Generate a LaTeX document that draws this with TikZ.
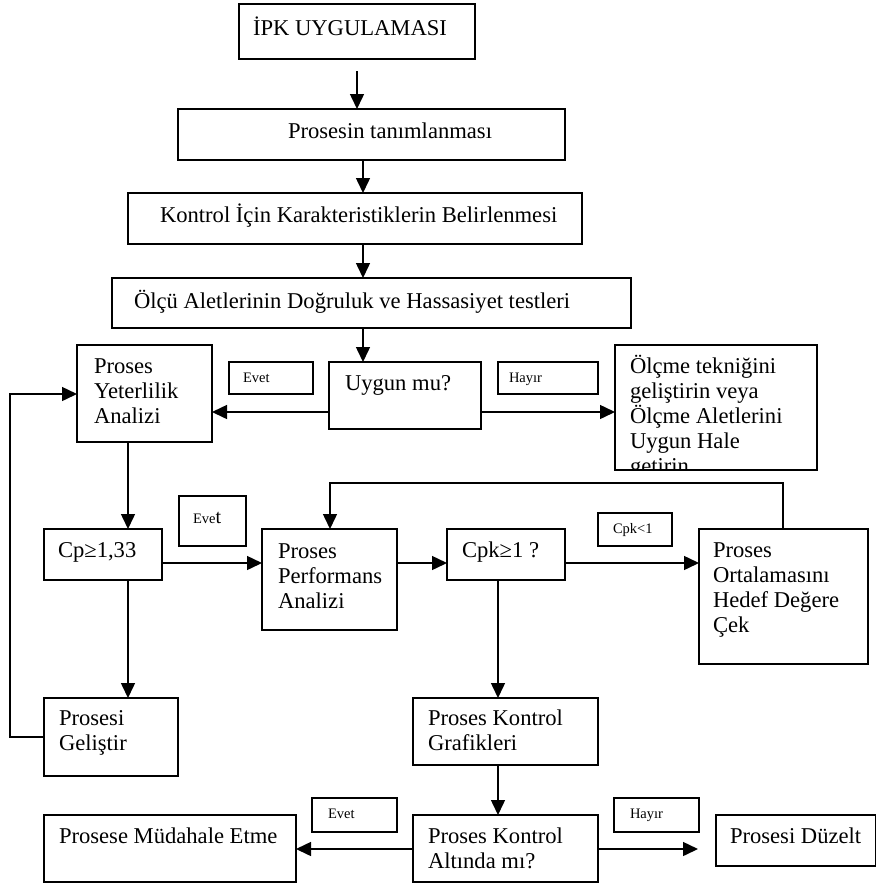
\documentclass[tikz,border=0pt]{standalone}
\usepackage{fontspec}
\setmainfont{Liberation Serif}
\usetikzlibrary{arrows.meta,fit}
\newcommand\mylines[1]{\begin{tabular}[t]{@{}l@{}}#1\end{tabular}}
\begin{document}
\begin{tikzpicture}[x=1pt,y=-1pt,
  box/.style={draw, line width=1.5pt, inner sep=0pt, outer sep=0pt},
  txt/.style={inner sep=0pt, outer sep=0pt, font=\fontsize{22.6}{25}\selectfont},
  small/.style={inner sep=0pt, outer sep=0pt, font=\fontsize{14.5}{16}\selectfont},
  arr/.style={line width=1.5pt, -{Triangle[length=15pt,width=14pt]}}]
\useasboundingbox (0,0) rectangle (877,884);
% boxes
\node[box, fit={(239,4) (475,59)}] (top) {};
\node[box, fit={(178,109) (565,160)}] (pros) {};
\node[box, fit={(128,193) (582,244)}] (kont) {};
\node[box, fit={(112,278) (631,328)}] (olcu) {};
\node[box, fit={(77,345) (212,442)}] (pya) {};
\node[box, fit={(229,362) (313,394)}] (evet1) {};
\node[box, fit={(329,362) (481,429)}] (uygun) {};
\node[box, fit={(498,362) (598,394)}] (hayir1) {};
\node[box, fit={(615,345) (817,470)}] (olcme) {};
\node[box, fit={(44,529) (162,580)}] (cp) {};
\node[box, fit={(179,496) (246,546)}] (evet2) {};
\node[box, fit={(262,529) (397,630)}] (perf) {};
\node[box, fit={(447,529) (565,580)}] (cpk) {};
\node[box, fit={(598,513) (672,546)}] (cpkl) {};
\node[box, fit={(699,529) (868,664)}] (orta) {};
\node[box, fit={(44,698) (178,776)}] (pg) {};
\node[box, fit={(413,698) (598,765)}] (pkg) {};
\node[box, fit={(312,798) (397,832)}] (evet3) {};
\node[box, fit={(44,815) (296,882)}] (pma) {};
\node[box, fit={(413,815) (598,882)}] (pka) {};
\node[box, fit={(614,798) (699,832)}] (hayir2) {};
\node[box, fit={(716,815) (875.5,866)}] (pd) {};
% texts
\node[txt, anchor=base west] (top-t) at (253,35) {İPK UYGULAMASI};
\node[txt, anchor=base west] (pros-t) at (288,138) {Prosesin tanımlanması};
\node[txt, anchor=base west] (kont-t) at (160,222) {Kontrol İçin Karakteristiklerin Belirlenmesi};
\node[txt, anchor=base west] (olcu-t) at (134,308) {Ölçü Aletlerinin Doğruluk ve Hassasiyet testleri};
\node[txt, anchor=base west] (pya-t) at (94,373) {\mylines{Proses\\Yeterlilik\\Analizi}};
\node[small, anchor=base west] (evet1-t) at (243,382) {Evet};
\node[txt, anchor=base west] (uygun-t) at (345,390) {Uygun mu?};
\node[small, anchor=base west] (hayir1-t) at (509,382) {Hayır};
\begin{scope}
\clip (616,346) rectangle (816,469);
\node[txt, anchor=base west] (olcme-t) at (630,373) {\mylines{Ölçme tekniğini\\geliştirin veya\\Ölçme Aletlerini\\Uygun Hale\\getirin}};
\end{scope}
\node[txt, anchor=base west] (cp-t) at (58,557) {Cp≥1,33};
\node[small, anchor=base west] (evet2-t) at (193,523) {Eve{\fontsize{20}{22}\selectfont t}};
\node[txt, anchor=base west] (perf-t) at (278,558) {\mylines{Proses\\Performans\\Analizi}};
\node[txt, anchor=base west] (cpk-t) at (462,557) {Cpk≥1 ?};
\node[small, anchor=base west] (cpkl-t) at (613,533) {Cpk<1};
\node[txt, anchor=base west] (orta-t) at (713,557) {\mylines{Proses\\Ortalamasını\\Hedef Değere\\Çek}};
\node[txt, anchor=base west] (pg-t) at (59,725) {\mylines{Prosesi\\Geliştir}};
\node[txt, anchor=base west] (pkg-t) at (428,725) {\mylines{Proses Kontrol\\Grafikleri}};
\node[small, anchor=base west] (evet3-t) at (328,818) {Evet};
\node[txt, anchor=base west] (pma-t) at (59,843) {Prosese Müdahale Etme};
\node[txt, anchor=base west] (pka-t) at (428,843) {\mylines{Proses Kontrol\\Altında mı?}};
\node[small, anchor=base west] (hayir2-t) at (630,818) {Hayır};
\node[txt, anchor=base west] (pd-t) at (730,843) {Prosesi Düzelt};
% helper coordinates
\coordinate (c363) at (363,0);
\coordinate (c128) at (128,0);
\coordinate (c498) at (498,0);
\coordinate (c783) at (783,0);
\coordinate (c330) at (330,0);
\coordinate (c10) at (10,0);
\coordinate (y412) at (0,412);
\coordinate (y563) at (0,563);
\coordinate (y849) at (0,849);
\coordinate (y394) at (0,394);
\coordinate (y737) at (0,737);
\coordinate (y483) at (0,483);
% connectors
\draw[arr, shorten <=12pt] (top.south) -- (top.south |- pros.north);
\draw[arr] (pros.south -| c363) -- (kont.north -| c363);
\draw[arr] (kont.south -| c363) -- (olcu.north -| c363);
\draw[arr] (olcu.south -| c363) -- (uygun.north -| c363);
\draw[arr] (uygun.west |- y412) -- (pya.east |- y412);
\draw[arr] (uygun.east |- y412) -- (olcme.west |- y412);
\draw[arr] (pya.south -| c128) -- (cp.north -| c128);
\draw[arr] (cp.east |- y563) -- (perf.west |- y563);
\draw[arr] (perf.east |- y563) -- (cpk.west |- y563);
\draw[arr] (cpk.east |- y563) -- (orta.west |- y563);
\draw[arr] (orta.north -| c783) |- (c330 |- y483) -- (perf.north -| c330);
\draw[arr] (cp.south -| c128) -- (pg.north -| c128);
\draw[arr] (pg.west |- y737) -| (c10 |- y394) -- (pya.west |- y394);
\draw[arr] (cpk.south -| c498) -- (pkg.north -| c498);
\draw[arr] (pkg.south -| c498) -- (pka.north -| c498);
\draw[arr] (pka.west |- y849) -- (pma.east |- y849);
\draw[arr, shorten >=18pt] (pka.east |- y849) -- (pd.west |- y849);
\end{tikzpicture}
\end{document}
